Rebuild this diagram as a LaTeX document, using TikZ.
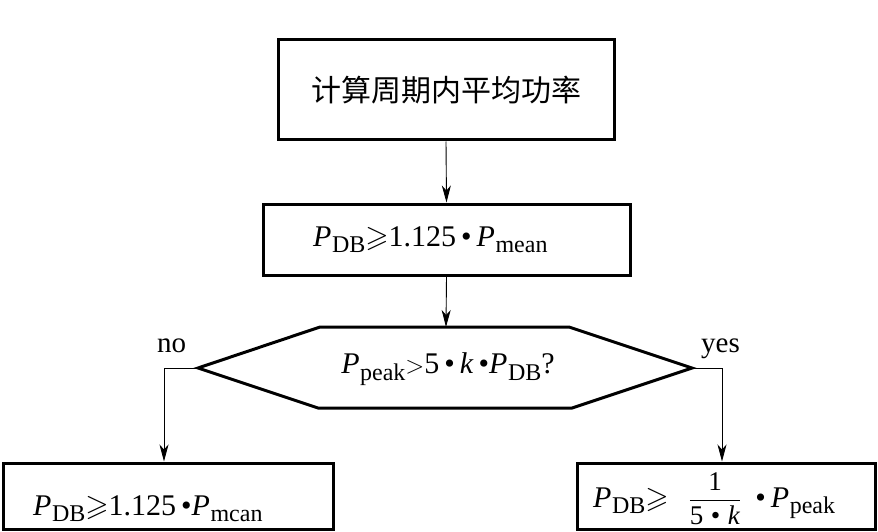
\documentclass[tikz,border=0pt]{standalone}
\usepackage{fontspec}
\usepackage{amssymb}
\setmainfont{Liberation Serif}
\newfontfamily\cjk{Noto Sans CJK SC}
\usetikzlibrary{arrows.meta}
\newcommand\Psub[1]{\textit{P}\kern0.5pt\raisebox{-6.5pt}{\fontsize{24}{24}\selectfont #1}}
\newcommand\geqs{\ensuremath{\geqslant}}
\newcommand\fracpart[2]{\ensuremath{\displaystyle\frac{\mbox{\fontsize{27}{27}\selectfont #1}}{\mbox{\fontsize{27}{27}\selectfont #2}}}}
\begin{document}
\begin{tikzpicture}[x=1pt,y=-1pt,
  box/.style={draw,line width=3pt,inner sep=0pt},
  conn/.style={line width=0.9pt,-{Stealth[length=17pt,width=9pt,inset=5pt]}},
  txt/.style={inner sep=0pt,font=\fontsize{30}{32}\selectfont},
  lbl/.style={inner sep=0pt,font=\fontsize{29}{30}\selectfont}]
\useasboundingbox (0,0) rectangle (878,532);
% boxes
\node[box,minimum width=336pt,minimum height=100pt,font=\cjk\fontsize{30}{32}\selectfont] (b1) at (446,90) {计算周期内平均功率};
\node[box,minimum width=367pt,minimum height=71pt] (b2) at (446.5,239.5) {};
\node[box,minimum width=330pt,minimum height=66pt] (b3) at (168,496) {};
\node[box,minimum width=298pt,minimum height=66pt] (b4) at (726,496) {};
% texts
\node[txt,anchor=base west] (t2) at (313,246) {\Psub{DB}\geqs1.125\,•\,\Psub{mean}};
\node[txt,anchor=base west] (t3) at (33,515) {\Psub{DB}\geqs1.125\,•\Psub{mcan}};
\node[txt,anchor=base west] (t4) at (593,507) {\Psub{DB}\geqs\hspace{20pt}\fracpart{1}{5\;•\;\textit{k}}\hspace{14pt}•\,\Psub{peak}};
% hexagon
\coordinate (hl) at (198,368);
\coordinate (hr) at (692,368);
\coordinate (htl) at (320,327);
\coordinate (htr) at (569,327);
\coordinate (hbr) at (572,408);
\coordinate (hbl) at (318,408);
\coordinate (htop) at (446,327);
\draw[line width=3pt,line join=miter] (hl) -- (htl) -- (htr) -- (hr) -- (hbr) -- (hbl) -- cycle;
\node[txt] (t5) at (448,369) {\Psub{peak}$>$5\,•\,\textit{k}\,•\Psub{DB}?};
% labels
\node[lbl,anchor=base west] (no) at (157,352) {no};
\node[lbl,anchor=base west] (yes) at (701,352) {yes};
% connectors
\draw[conn] (b1.south) -- (b2.north);
\draw[conn] (b2.south) -- (htop);
\coordinate (lc) at (164,368);
\coordinate (rc) at (722,368);
\draw[conn] (hl) -- (lc) -- (lc |- b3.north);
\draw[conn] (hr) -- (rc) -- (rc |- b4.north);
\end{tikzpicture}
\end{document}
